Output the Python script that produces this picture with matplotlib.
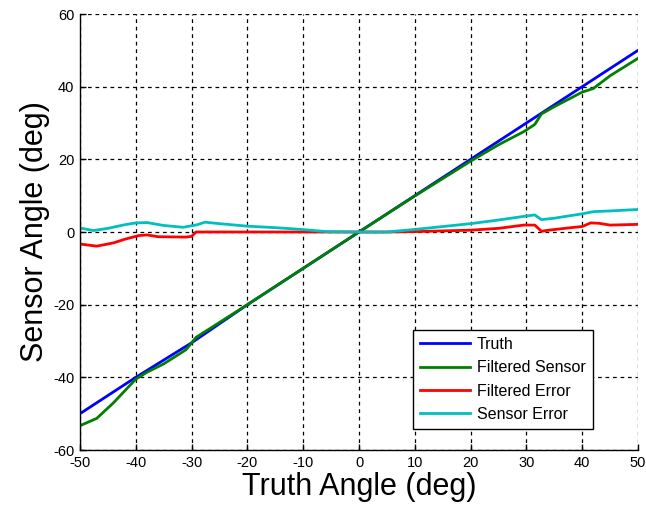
import numpy as np
import matplotlib
matplotlib.use("Agg")
import matplotlib.pyplot as plt

plt.rcParams['font.family'] = ['Liberation Sans', 'DejaVu Sans']
plt.rcParams['axes.unicode_minus'] = False

# Truth angle (deg)
truth_x = [-50, -40, -30, -20, -10, 0, 10, 20, 30, 40, 50]
truth_y = [-50, -40, -30.5, -20, -10, 0, 10, 20, 30, 40, 50]

# Filtered sensor angle (deg)
filt_x = [-50, -47, -44, -40, -38, -35, -31, -29.2, -20, -10, 0, 10, 20, 25,
          29.5, 31.5, 32.7, 35, 40, 42, 45, 50]
filt_y = [-53.3, -51.3, -47.0, -40.5, -38.6, -36.3, -32.4, -29.0, -20.0, -10.0, 0.0,
          9.9, 19.5, 24.0, 27.6, 29.6, 32.5, 34.5, 38.5, 39.5, 43.0, 47.8]

# Filtered error (deg)
ferr_x = [-50, -47, -44, -42, -39.5, -38, -36, -31, -30, -29.2, -20, 0, 5, 10, 15,
          20, 25, 29.5, 31.5, 32.7, 34, 38, 40, 41.5, 43, 45, 50]
ferr_y = [-3.3, -3.9, -3.0, -2.0, -1.0, -0.8, -1.3, -1.4, -1.2, 0.0, 0.0, 0.0, 0.0,
          0.1, 0.3, 0.5, 1.0, 1.9, 1.9, 0.2, 0.5, 1.2, 1.5, 2.5, 2.4, 1.9, 2.1]

# Sensor error (deg)
serr_x = [-50, -47.6, -45, -42, -40, -38, -35, -31.5, -29, -27.6, -25, -20, -15,
          -10.3, -5.8, 0, 5, 10, 15, 20, 25, 30, 31.5, 32.7, 35, 40, 42, 45, 50]
serr_y = [1.1, 0.4, 1.0, 2.0, 2.5, 2.6, 1.8, 1.3, 2.0, 2.7, 2.3, 1.6, 1.2,
          0.7, 0.1, 0.0, 0.0, 0.7, 1.5, 2.3, 3.3, 4.4, 4.7, 3.4, 3.8, 5.0, 5.6, 5.8, 6.2]

fig = plt.figure(figsize=(6.46, 5.15), dpi=100)
ax = fig.add_axes([80 / 646, 1 - 450 / 515, 558 / 646, 436 / 515])

ax.plot(truth_x, truth_y, color='#0000ff', lw=2, label='Truth')
ax.plot(filt_x, filt_y, color='#008000', lw=2, label='Filtered Sensor')
ax.plot(ferr_x, ferr_y, color='#ff0000', lw=2, label='Filtered Error')
ax.plot(serr_x, serr_y, color='#00bfbf', lw=2, label='Sensor Error')

ax.set_xlim(-50, 50)
ax.set_ylim(-60, 60)
ax.set_xticks(np.arange(-50, 51, 10))
ax.set_yticks(np.arange(-60, 61, 20))
ax.tick_params(direction='in', length=4, width=1, pad=4, labelsize=10.5,
               top=False, right=False)

ax.grid(True, color='black', linestyle=(0, (3, 3)), linewidth=0.9)
ax.spines['top'].set_visible(False)
ax.spines['right'].set_visible(False)
for s in ['left', 'bottom']:
    ax.spines[s].set_linewidth(1)

ax.set_xlabel('Truth Angle (deg)', fontsize=22, labelpad=2)
ax.set_ylabel('Sensor Angle (deg)', fontsize=22, labelpad=2)

leg = ax.legend(loc='lower right', bbox_to_anchor=(0.919, 0.048), fontsize=11.5,
                fancybox=False, framealpha=1, edgecolor='black', handlelength=3.1,
                handletextpad=0.45, borderpad=0.45, labelspacing=0.52,
                borderaxespad=0)
leg.get_frame().set_linewidth(1)

fig.savefig('out.png', dpi=100)
